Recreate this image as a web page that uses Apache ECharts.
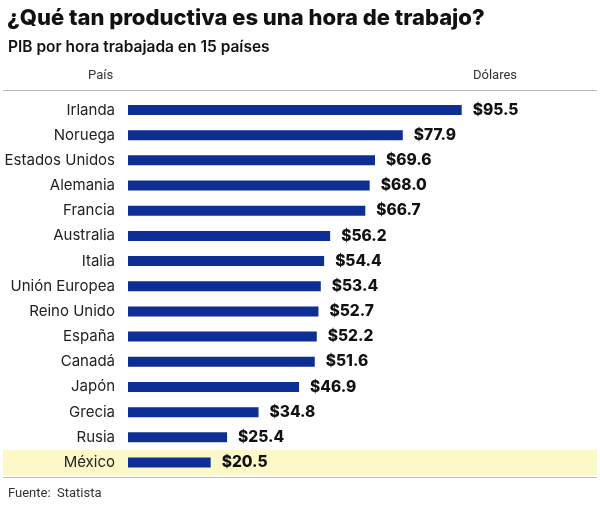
<!DOCTYPE html>
<html>
<head>
<meta charset="utf-8">
<script src="https://cdn.jsdelivr.net/npm/echarts@6/dist/echarts.min.js"></script>
<style>
  html, body { margin: 0; padding: 0; background: #fff; }
  #chart { width: 600px; height: 510px; }
</style>
</head>
<body>
<div id="chart"></div>
<script>
const paises = ['Irlanda', 'Noruega', 'Estados Unidos', 'Alemania', 'Francia', 'Australia', 'Italia',
  'Unión Europea', 'Reino Unido', 'España', 'Canadá', 'Japón', 'Grecia', 'Rusia', 'México'];
const dolares = [95.5, 77.9, 69.6, 68.0, 66.7, 56.2, 54.4, 53.4, 52.7, 52.2, 51.6, 46.9, 34.8, 25.4, 20.5];
const resaltados = ['México'];

const AZUL = '#0d2f93';
const XMIN = -4.2;

var chart = echarts.init(document.getElementById('chart'));

chart.setOption({
  animation: false,
  title: [
    {
      text: '¿Qué tan productiva es una hora de trabajo?',
      left: 2, top: 2,
      textStyle: { fontFamily: 'Inter', fontWeight: 800, fontSize: 22, color: '#111' }
    },
    {
      text: 'PIB por hora trabajada en 15 países',
      left: 3, top: 34,
      textStyle: { fontFamily: 'Inter', fontWeight: 600, fontSize: 15.5, color: '#111' }
    }
  ],
  grid: [
    { left: 128, right: 56.3, top: 97.4, height: 377.7 },
    { left: 3, right: 3, top: 97.4, height: 377.7 }
  ],
  xAxis: [
    { gridIndex: 0, type: 'value', min: XMIN, max: 120, show: false },
    { gridIndex: 1, type: 'value', min: 0, max: 1, show: false }
  ],
  yAxis: [
    {
      gridIndex: 0, type: 'category', data: paises, inverse: true,
      axisLine: { show: false }, axisTick: { show: false },
      axisLabel: { margin: 13, fontFamily: 'Inter', fontSize: 15, color: '#222' }
    },
    { gridIndex: 1, type: 'category', data: paises, inverse: true, show: false }
  ],
  graphic: [
    { type: 'line', shape: { x1: 3, y1: 90.5, x2: 597, y2: 90.5 }, style: { stroke: '#bdbdbd', lineWidth: 1.2 } },
    { type: 'line', shape: { x1: 3, y1: 477.5, x2: 597, y2: 477.5 }, style: { stroke: '#bdbdbd', lineWidth: 1.2 } },
    { type: 'text', left: 88, top: 69, style: { text: 'País', font: '13px Roboto', fill: '#333' } },
    { type: 'text', left: 473, top: 69, style: { text: 'Dólares', font: '13px Roboto', fill: '#333' } },
    { type: 'text', left: 8, top: 487, style: { text: 'Fuente:  Statista', font: '13px Roboto', fill: '#333' } }
  ],
  series: [
    {
      type: 'bar',
      xAxisIndex: 1, yAxisIndex: 1,
      barWidth: '100%',
      silent: true,
      z: 0,
      itemStyle: { color: '#fdf8c8' },
      data: paises.map(p => resaltados.includes(p) ? 1 : '-')
    },
    {
      type: 'custom',
      xAxisIndex: 0, yAxisIndex: 0,
      z: 2,
      data: dolares.map((v, i) => [v, paises[i]]),
      renderItem: function (params, api) {
        var inicio = api.coord([XMIN, api.value(1)]);
        var fin = api.coord([api.value(0), api.value(1)]);
        var h = 10;
        return {
          type: 'group',
          children: [
            {
              type: 'rect',
              shape: { x: inicio[0], y: fin[1] - h / 2, width: fin[0] - inicio[0], height: h },
              style: { fill: AZUL }
            },
            {
              type: 'text',
              x: fin[0] + 11, y: fin[1],
              style: {
                text: '$' + api.value(0).toFixed(1),
                font: '800 15.5px Inter',
                fill: '#111',
                verticalAlign: 'middle'
              }
            }
          ]
        };
      }
    }
  ]
});
</script>
</body>
</html>
